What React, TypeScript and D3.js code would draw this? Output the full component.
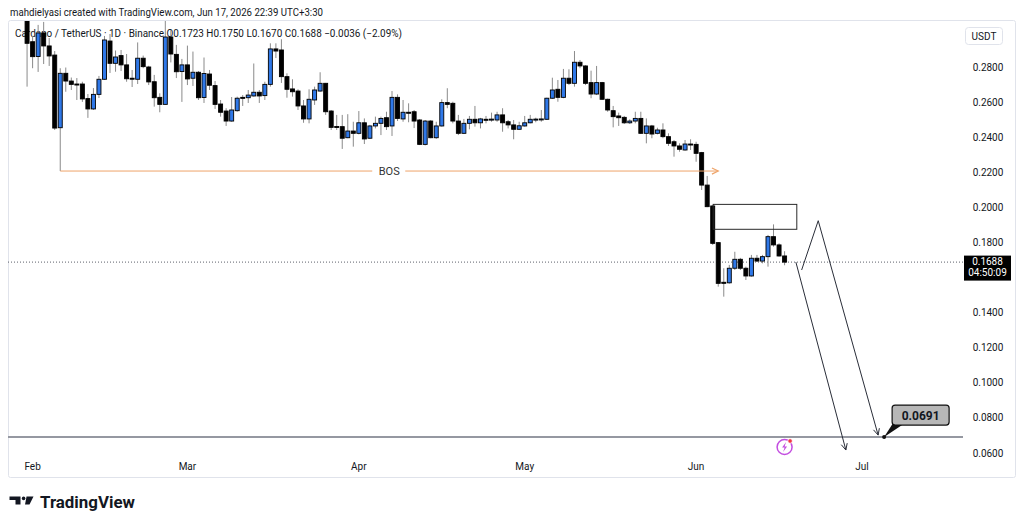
import * as d3 from "d3";

// daily candles from the first visible day, [open, high, low, close]
const FIRST_DAY = "2026-01-31";
const candles: [number, number, number, number][] = [
  [0.31, 0.315, 0.2688, 0.2935], [0.2944, 0.2977, 0.2793, 0.2859], [0.286, 0.304, 0.2772, 0.2994],
  [0.2994, 0.3057, 0.2817, 0.292], [0.292, 0.2965, 0.2806, 0.2863], [0.2868, 0.2891, 0.2441, 0.2452],
  [0.2454, 0.2793, 0.2207, 0.2764], [0.2764, 0.2797, 0.2659, 0.272], [0.272, 0.274, 0.2669, 0.2701],
  [0.2703, 0.2737, 0.2612, 0.2701], [0.2703, 0.2716, 0.2601, 0.2618], [0.262, 0.2646, 0.251, 0.2561],
  [0.2561, 0.268, 0.2555, 0.2644], [0.2644, 0.2749, 0.2623, 0.273], [0.273, 0.2977, 0.2726, 0.2954],
  [0.2948, 0.2988, 0.2766, 0.2821], [0.2821, 0.2894, 0.2773, 0.2857], [0.2865, 0.2897, 0.2777, 0.2812],
  [0.2812, 0.2874, 0.2716, 0.2733], [0.2736, 0.2783, 0.2686, 0.2732], [0.273, 0.294, 0.2703, 0.285],
  [0.285, 0.2865, 0.2793, 0.2802], [0.28, 0.2807, 0.2697, 0.2715], [0.2716, 0.2755, 0.2574, 0.2625],
  [0.2627, 0.265, 0.2542, 0.2587], [0.2587, 0.308, 0.2584, 0.2971], [0.2971, 0.3011, 0.2826, 0.2874],
  [0.2872, 0.2926, 0.2737, 0.2773], [0.2774, 0.2846, 0.2601, 0.2812], [0.2812, 0.2922, 0.2697, 0.2732],
  [0.2736, 0.2888, 0.2692, 0.277], [0.277, 0.2777, 0.2612, 0.2625], [0.2626, 0.2854, 0.2595, 0.2763],
  [0.276, 0.2783, 0.2669, 0.2696], [0.2694, 0.272, 0.2561, 0.2587], [0.2589, 0.2612, 0.2517, 0.2542],
  [0.2549, 0.2565, 0.2464, 0.2492], [0.2492, 0.2629, 0.2488, 0.2555], [0.2551, 0.2631, 0.2545, 0.2622],
  [0.2627, 0.264, 0.2578, 0.2623], [0.2625, 0.2669, 0.2595, 0.264], [0.2635, 0.282, 0.2631, 0.2656],
  [0.2656, 0.2669, 0.2595, 0.2635], [0.2637, 0.2716, 0.2612, 0.2701], [0.2701, 0.2935, 0.2688, 0.2903],
  [0.2903, 0.2935, 0.2851, 0.2891], [0.2897, 0.2958, 0.2709, 0.2745], [0.2745, 0.2764, 0.2625, 0.2673],
  [0.2675, 0.273, 0.2631, 0.2659], [0.2663, 0.2673, 0.2555, 0.2578], [0.2578, 0.2612, 0.2482, 0.2504],
  [0.2504, 0.2673, 0.2479, 0.2616], [0.2612, 0.2688, 0.2584, 0.2669], [0.2663, 0.277, 0.2659, 0.2707],
  [0.2707, 0.2709, 0.2527, 0.2545], [0.2549, 0.2555, 0.2441, 0.2456], [0.2461, 0.2527, 0.2441, 0.2458],
  [0.246, 0.2527, 0.2333, 0.2394], [0.2397, 0.2531, 0.2394, 0.2435], [0.2435, 0.2488, 0.2346, 0.2422],
  [0.2422, 0.2549, 0.2416, 0.2482], [0.2482, 0.2507, 0.2361, 0.239], [0.2394, 0.247, 0.239, 0.2464],
  [0.2464, 0.2517, 0.245, 0.2479], [0.2479, 0.2517, 0.2412, 0.2507], [0.2511, 0.2545, 0.2441, 0.246],
  [0.2464, 0.2663, 0.2407, 0.2627], [0.2627, 0.2644, 0.2492, 0.2507], [0.2504, 0.2612, 0.2488, 0.2542],
  [0.2542, 0.2593, 0.2485, 0.254], [0.2545, 0.2555, 0.2452, 0.2492], [0.2498, 0.2503, 0.2355, 0.2359],
  [0.2359, 0.2498, 0.2353, 0.2492], [0.2492, 0.2498, 0.2394, 0.2397], [0.2397, 0.2488, 0.239, 0.2464],
  [0.2464, 0.2616, 0.246, 0.2597], [0.2597, 0.2679, 0.2565, 0.2587], [0.2593, 0.2602, 0.2479, 0.2492],
  [0.2492, 0.2527, 0.2412, 0.2422], [0.2422, 0.2504, 0.2418, 0.2479], [0.2479, 0.2521, 0.2445, 0.2502],
  [0.2502, 0.2578, 0.246, 0.2482], [0.2482, 0.251, 0.245, 0.2504], [0.2502, 0.2521, 0.2479, 0.2501],
  [0.2501, 0.254, 0.2488, 0.2503], [0.2498, 0.2545, 0.2488, 0.2527], [0.2527, 0.2565, 0.2431, 0.2482],
  [0.2488, 0.2498, 0.245, 0.247], [0.247, 0.2498, 0.2388, 0.2445], [0.2445, 0.2488, 0.2441, 0.2465],
  [0.2464, 0.2521, 0.246, 0.2482], [0.2482, 0.2527, 0.2479, 0.2502], [0.2502, 0.2511, 0.2485, 0.2503],
  [0.2502, 0.2555, 0.2488, 0.2504], [0.2502, 0.2625, 0.2498, 0.2622], [0.2622, 0.2739, 0.2618, 0.2669],
  [0.2673, 0.2726, 0.2602, 0.2627], [0.2627, 0.2789, 0.2622, 0.2736], [0.2736, 0.2787, 0.2697, 0.2707],
  [0.2707, 0.2891, 0.2688, 0.2827], [0.2827, 0.284, 0.2793, 0.2806], [0.2806, 0.281, 0.2697, 0.2707],
  [0.2711, 0.2779, 0.2622, 0.2646], [0.2646, 0.2806, 0.264, 0.2711], [0.2711, 0.2715, 0.2612, 0.2616],
  [0.2616, 0.262, 0.2545, 0.2555], [0.2551, 0.2578, 0.2456, 0.2517], [0.2521, 0.254, 0.2464, 0.2511],
  [0.2513, 0.2521, 0.2475, 0.2482], [0.2482, 0.2502, 0.2475, 0.2492], [0.2492, 0.2545, 0.2479, 0.2507],
  [0.2507, 0.2545, 0.2418, 0.2422], [0.2422, 0.2507, 0.2365, 0.2464], [0.2464, 0.247, 0.2394, 0.2418],
  [0.2422, 0.2454, 0.2416, 0.2441], [0.2441, 0.2479, 0.2394, 0.2403], [0.2403, 0.2422, 0.235, 0.2365],
  [0.2374, 0.2384, 0.2289, 0.235], [0.235, 0.2365, 0.2317, 0.2331], [0.2327, 0.2384, 0.2323, 0.2361],
  [0.2361, 0.2388, 0.2327, 0.2359], [0.2359, 0.2374, 0.226, 0.2308], [0.2312, 0.2316, 0.2099, 0.2127],
  [0.2127, 0.2179, 0.2001, 0.2004], [0.2008, 0.2012, 0.1786, 0.1795], [0.1799, 0.1802, 0.1548, 0.1567],
  [0.1573, 0.1653, 0.1491, 0.1567], [0.157, 0.1672, 0.1565, 0.1653], [0.1653, 0.1747, 0.1643, 0.1704],
  [0.1704, 0.1712, 0.1643, 0.1653], [0.1653, 0.1662, 0.1586, 0.1609], [0.1609, 0.1729, 0.1605, 0.171],
  [0.171, 0.1729, 0.1689, 0.1694], [0.1694, 0.1729, 0.1681, 0.1719], [0.1719, 0.1843, 0.1662, 0.1833],
  [0.1833, 0.1903, 0.1776, 0.1786], [0.1786, 0.1795, 0.1719, 0.1723], [0.1723, 0.175, 0.167, 0.1688],
];

const monthTicks = ["2026-02-01", "2026-03-01", "2026-04-01", "2026-05-01", "2026-06-01", "2026-07-01"];
const monthLabels = ["Feb", "Mar", "Apr", "May", "Jun", "Jul"];
const priceTicks = [0.06, 0.08, 0.1, 0.12, 0.14, 0.16, 0.18, 0.2, 0.22, 0.24, 0.26, 0.28];

const lastPrice = 0.1688;
const countdown = "04:50:09";
const targetPrice = 0.0691;
const targetDay = "2026-07-05";

// drawings: [time, price]
const bosLine: [string, number][] = [["2026-02-06", 0.2207], ["2026-06-05", 0.2207]];
const zone: [string, number][] = [["2026-06-04T02:00Z", 0.2017], ["2026-06-19T05:00Z", 0.1875]];
const pathDirect: [string, number][] = [["2026-06-19T01:00Z", 0.1688], ["2026-06-28T02:00Z", 0.0617]];
const pathRetest: [string, number][] = [
  ["2026-06-20T02:00Z", 0.1643],
  ["2026-06-23T02:00Z", 0.1924],
  ["2026-07-03T22:00Z", 0.0702],
];

const HEADER = "mahdielyasi created with TradingView.com, Jun 17, 2026 22:39 UTC+3:30";
const LEGEND = "Cardano / TetherUS · 1D · Binance  O0.1723  H0.1750  L0.1670  C0.1688  −0.0036 (−2.09%)";

const W = 1024;
const H = 527;
const PANE = { left: 8, right: 963, top: 21, bottom: 458 };
const UP = "#2f78e8";
const FONT = "Roboto, 'Noto Sans', sans-serif";

const x = d3
  .scaleUtc()
  .domain([new Date("2026-02-01"), new Date("2026-07-01")])
  .range([32.6, 862]);
const y = d3.scaleLinear().domain([0.06, 0.28]).range([453, 67]);

const pt = ([t, p]: [string, number]): [number, number] => [x(new Date(t)), y(p)];

function arrowHead(a: [number, number], b: [number, number], size = 7) {
  const ang = Math.atan2(b[1] - a[1], b[0] - a[0]);
  const l = [b[0] - size * Math.cos(ang - 0.45), b[1] - size * Math.sin(ang - 0.45)];
  const r = [b[0] - size * Math.cos(ang + 0.45), b[1] - size * Math.sin(ang + 0.45)];
  return `M${l[0]},${l[1]}L${b[0]},${b[1]}L${r[0]},${r[1]}`;
}

export default function App() {
  const start = new Date(FIRST_DAY);
  const line = d3.line<[number, number]>();

  const bosA = pt(bosLine[0]);
  const bosB = pt(bosLine[1]);
  const bosMid = (bosA[0] + bosB[0]) / 2;

  const z0 = pt(zone[0]);
  const z1 = pt(zone[1]);

  const direct = pathDirect.map(pt);
  const retest = pathRetest.map(pt);

  const tx = x(new Date(targetDay));
  const ty = y(targetPrice);
  const ly = y(lastPrice);
  const lastX = x(d3.utcDay.offset(start, candles.length - 1));

  // the last-price badge hides the scale label under it
  const visibleTicks = priceTicks.filter((v) => Math.abs(y(v) - (ly + 6)) > 18);

  return (
    <svg
      width={W}
      height={H}
      style={{ position: "absolute", left: 0, top: 0, background: "#fff" }}
      fontFamily={FONT}
    >
      <defs>
        <clipPath id="pane">
          <rect x={PANE.left} y={PANE.top} width={PANE.right - PANE.left} height={PANE.bottom - PANE.top} />
        </clipPath>
      </defs>

      <rect x={0} y={0} width={W} height={H} fill="#fff" />
      <text x={10} y={15.5} fontSize={11} fill="#131722" textLength={313} lengthAdjust="spacingAndGlyphs">
        {HEADER}
      </text>

      {/* chart frame */}
      <rect x={8.5} y={20.5} width={1007} height={457} fill="none" stroke="#e0e3eb" rx={2} />

      <text x={15} y={36.5} fontSize={10.5} fill="#131722" textLength={387} lengthAdjust="spacingAndGlyphs">
        {LEGEND}
      </text>

      <g clipPath="url(#pane)">
        {/* last price dotted line */}
        <line x1={PANE.left} x2={PANE.right} y1={ly} y2={ly} stroke="#5d606b" strokeDasharray="1 2" />

        {/* target level */}
        <line x1={PANE.left} x2={PANE.right} y1={ty} y2={ty} stroke="#9598a1" strokeWidth={2} />

        {candles.map(([o, h, l, c], i) => {
          const cx = x(d3.utcDay.offset(start, i));
          const top = y(Math.max(o, c));
          const bot = y(Math.min(o, c));
          return (
            <g key={i}>
              <line x1={cx} x2={cx} y1={y(h)} y2={y(l)} stroke="#8a8a8a" strokeWidth={1} />
              <rect
                x={cx - 2}
                y={top}
                width={4}
                height={Math.max(bot - top, 1)}
                fill={c >= o ? UP : "#000"}
                stroke="#000"
                strokeWidth={0.9}
              />
            </g>
          );
        })}

        {/* BOS */}
        <line x1={bosA[0]} x2={bosMid - 17} y1={bosA[1]} y2={bosA[1]} stroke="#eea46a" />
        <line x1={bosMid + 16} x2={bosB[0]} y1={bosB[1]} y2={bosB[1]} stroke="#eea46a" />
        <path d={arrowHead(bosA, bosB, 7)} fill="none" stroke="#eea46a" strokeWidth={1.2} />
        <text x={bosMid} y={bosA[1] + 4} fontSize={11} fill="#333" textAnchor="middle">
          BOS
        </text>

        {/* supply zone */}
        <rect x={z0[0]} y={z0[1]} width={z1[0] - z0[0]} height={z1[1] - z0[1]} fill="none" stroke="#2a2a2a" />

        {/* projected paths */}
        <path d={line(direct) ?? ""} fill="none" stroke="#2a2e39" />
        <path d={arrowHead(direct[0], direct[1], 7)} fill="none" stroke="#2a2e39" />
        <path d={line(retest) ?? ""} fill="none" stroke="#2a2e39" />
        <path d={arrowHead(retest[1], retest[2], 7)} fill="none" stroke="#2a2e39" />

        {/* callout */}
        <path d={`M${tx + 9},${ty - 14}L${tx + 18},${ty - 12}L${tx},${ty}Z`} fill="#111" />
        <circle cx={tx} cy={ty} r={2} fill="#111" />
        <rect x={tx + 8} y={ty - 32} width={57} height={20} rx={3} fill="#b7b7b7" stroke="#111" strokeWidth={1.2} />
        <text x={tx + 36.5} y={ty - 17.5} fontSize={12} fontWeight={700} fill="#131722" textAnchor="middle">
          {targetPrice.toFixed(4)}
        </text>

        {/* event marker */}
        <circle cx={lastX} cy={447} r={7.5} fill="#fff" stroke="#c34de0" strokeWidth={1.5} />
        <path
          d={`M${lastX + 1.5},${442}L${lastX - 2.5},${447.5}L${lastX},${447.5}L${lastX - 1.5},${452}L${lastX + 2.5},${446.5}L${lastX},${446.5}Z`}
          fill="#c34de0"
        />
        <circle cx={lastX + 5.5} cy={441} r={2.3} fill="#f23645" stroke="#fff" strokeWidth={0.8} />
      </g>

      {/* price scale */}
      <rect x={965.5} y={27.5} width={37} height={17} rx={3} fill="#fff" stroke="#e0e3eb" />
      <text x={984} y={39.5} fontSize={10} fill="#131722" textAnchor="middle">
        USDT
      </text>
      {visibleTicks.map((v) => (
        <text key={v} x={988} y={y(v) + 3.5} fontSize={10} fill="#131722" textAnchor="middle">
          {v.toFixed(4)}
        </text>
      ))}
      <rect x={964} y={ly - 6.5} width={47} height={25} fill="#000" />
      <text x={987.5} y={ly + 2.5} fontSize={10} fill="#fff" textAnchor="middle">
        {lastPrice.toFixed(4)}
      </text>
      <text x={987.5} y={ly + 14} fontSize={10} fill="#fff" textAnchor="middle">
        {countdown}
      </text>

      {/* time scale */}
      {monthTicks.map((d, i) => (
        <text key={d} x={x(new Date(d))} y={470} fontSize={10} fill="#131722" textAnchor="middle">
          {monthLabels[i]}
        </text>
      ))}

      {/* logo */}
      <g fill="#131722">
        <path d="M9.5,496.5H20.5V504.5H15.5V500H9.5Z" />
        <circle cx={23.6} cy={498.4} r={1.8} />
        <path d="M26.5,496.5H33.5L29.5,504.5H25Z" />
      </g>
      <text x={40} y={508} fontSize={17} fontWeight={700} fill="#131722" textLength={95} lengthAdjust="spacingAndGlyphs">
        TradingView
      </text>
    </svg>
  );
}
